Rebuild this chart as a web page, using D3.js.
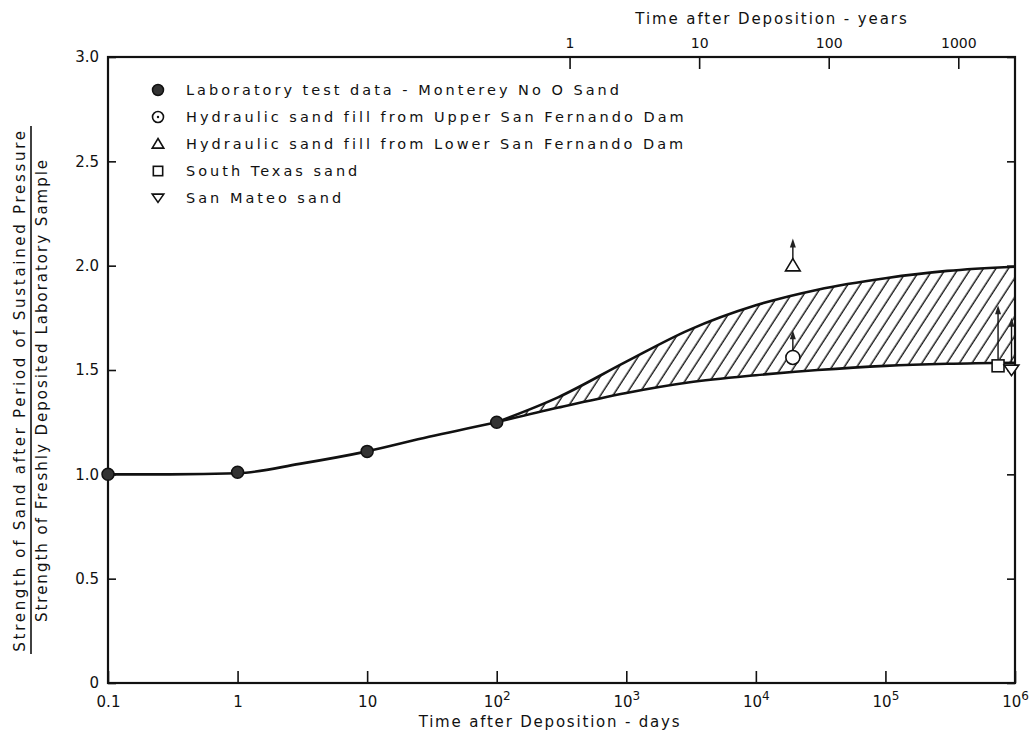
<!DOCTYPE html>
<html>
<head>
<meta charset="utf-8">
<script src="https://cdn.jsdelivr.net/npm/d3@7"></script>
<style>
  html, body { margin: 0; padding: 0; background: #fff; }
  svg { display: block; }
  text { font-family: "DejaVu Sans", "Liberation Sans", sans-serif; fill: #111; }
</style>
</head>
<body>
<svg id="chart" width="1029" height="736"></svg>
<script>
// ---------- data ----------
const bottomTickDays = [0.1, 1, 10, 100, 1000, 1e4, 1e5, 1e6];
const bottomTickBase = ["0.1", "1", "10", "10", "10", "10", "10", "10"];
const bottomTickExp  = ["", "", "", "2", "3", "4", "5", "6"];
const topTickYears = [1, 10, 100, 1000];
const topTickLabels = ["1", "10", "100", "1000"];
const yTickValues = [0, 0.5, 1.0, 1.5, 2.0, 2.5, 3.0];
const yTickLabels = ["0", "0.5", "1.0", "1.5", "2.0", "2.5", "3.0"];

// Laboratory test data - Monterey No 0 Sand
const labDays = [0.1, 1, 10, 100];
const labStrength = [1.0, 1.01, 1.11, 1.25];

// common trend curve up to 100 days
const trendDays = [0.1, 0.3, 1, 3, 10, 30, 100];
const trendStrength = [1.0, 1.0, 1.005, 1.05, 1.11, 1.18, 1.25];

// band bounds after 100 days
const bandDays  = [100, 300, 1000, 3000, 1e4, 3e4, 1e5, 3e5, 1e6];
const bandUpper = [1.25, 1.37, 1.54, 1.69, 1.81, 1.885, 1.94, 1.975, 1.995];
const bandLower = [1.25, 1.32, 1.39, 1.44, 1.475, 1.50, 1.52, 1.53, 1.535];

// field samples
const fieldSymbols = ["circle", "triangle", "square", "triangleDown"];
const fieldDays = [19300, 19300, 7.4e5, 9.4e5];
const fieldStrength = [1.56, 2.0, 1.52, 1.50];
const fieldArrowTop = [1.69, 2.13, 1.81, 1.75];

const legendLabels = ["Laboratory test data - Monterey No O Sand",
                      "Hydraulic sand fill from Upper San Fernando Dam",
                      "Hydraulic sand fill from Lower San Fernando Dam",
                      "South Texas sand", "San Mateo sand"];
const legendSymbols = ["filled", "circle", "triangle", "square", "triangleDown"];

// ---------- layout ----------
const L = 108, R = 1015, T = 57, B = 683;
const svg = d3.select("#chart");
const x = d3.scaleLog().domain([0.1, 1e6]).range([L, R]);
const xYears = d3.scaleLog().domain([0.1 / 365, 1e6 / 365]).range([L, R]);
const y = d3.scaleLinear().domain([0, 3]).range([B, T]);

// hatch pattern
const defs = svg.append("defs");
const pat = defs.append("pattern").attr("id", "hatch")
  .attr("patternUnits", "userSpaceOnUse").attr("width", 10.5).attr("height", 12)
  .attr("patternTransform", "rotate(33)");
pat.append("line").attr("x1", 5).attr("y1", 0).attr("x2", 5).attr("y2", 12)
  .attr("stroke", "#111").attr("stroke-width", 1.4);

// hatched band
const bandData = bandDays.map((d, i) => ({d, u: bandUpper[i], l: bandLower[i]}));
svg.append("path").datum(bandData)
  .attr("d", d3.area().x(p => x(p.d)).y0(p => y(p.l)).y1(p => y(p.u)).curve(d3.curveMonotoneX))
  .attr("fill", "url(#hatch)");

// frame
svg.append("rect").attr("x", L).attr("y", T).attr("width", R - L).attr("height", B - T)
  .attr("fill", "none").attr("stroke", "#111").attr("stroke-width", 2.2);

// axes
const gB = svg.append("g").attr("transform", `translate(0,${B})`)
  .call(d3.axisBottom(x).tickValues(bottomTickDays).tickSize(-12).tickPadding(10).tickFormat(() => ""));
gB.selectAll(".tick text").each(function(d, i) {
  const t = d3.select(this).attr("font-size", 15).attr("dy", "0.9em");
  t.append("tspan").text(bottomTickBase[i]);
  if (bottomTickExp[i]) t.append("tspan").attr("dy", "-0.55em").attr("font-size", 12).text(bottomTickExp[i]);
});

const gT = svg.append("g").attr("transform", `translate(0,${T})`)
  .call(d3.axisTop(xYears).tickValues(topTickYears).tickSize(-12).tickPadding(6)
    .tickFormat((d, i) => topTickLabels[i]));
gT.selectAll(".tick text").attr("font-size", 14).attr("dy", "-0.2em");

const gL = svg.append("g").attr("transform", `translate(${L},0)`)
  .call(d3.axisLeft(y).tickValues(yTickValues).tickSize(-8).tickPadding(9)
    .tickFormat((d, i) => yTickLabels[i]));
gL.selectAll(".tick text").attr("font-size", 15);

const gR = svg.append("g").attr("transform", `translate(${R},0)`)
  .call(d3.axisRight(y).tickValues(yTickValues).tickSize(-8).tickFormat(() => ""));

[gB, gT, gL, gR].forEach(g => {
  g.select(".domain").remove();
  g.selectAll(".tick line").attr("stroke", "#111").attr("stroke-width", 1.6);
  g.selectAll("text").attr("fill", "#111").attr("font-family", "DejaVu Sans, sans-serif");
});

// trend lines
const lineGen = d3.line().curve(d3.curveMonotoneX);
svg.append("path")
  .attr("d", lineGen(trendDays.map((d, i) => [x(d), y(trendStrength[i])])))
  .attr("fill", "none").attr("stroke", "#111").attr("stroke-width", 2.6);
svg.append("path")
  .attr("d", lineGen(bandDays.map((d, i) => [x(d), y(bandUpper[i])])))
  .attr("fill", "none").attr("stroke", "#111").attr("stroke-width", 2.6);
svg.append("path")
  .attr("d", lineGen(bandDays.map((d, i) => [x(d), y(bandLower[i])])))
  .attr("fill", "none").attr("stroke", "#111").attr("stroke-width", 2.6);

// symbol drawing
function drawSymbol(g, kind, cx, cy, s) {
  if (kind === "filled") {
    g.append("circle").attr("cx", cx).attr("cy", cy).attr("r", s)
      .attr("fill", "#333").attr("stroke", "#111").attr("stroke-width", 1.5);
  } else if (kind === "circle") {
    g.append("circle").attr("cx", cx).attr("cy", cy).attr("r", s)
      .attr("fill", "#fff").attr("stroke", "#111").attr("stroke-width", 1.6);
  } else if (kind === "triangle") {
    g.append("path").attr("d", `M${cx},${cy - s}L${cx + s * 1.05},${cy + s * 0.75}L${cx - s * 1.05},${cy + s * 0.75}Z`)
      .attr("fill", "#fff").attr("stroke", "#111").attr("stroke-width", 1.6);
  } else if (kind === "square") {
    g.append("rect").attr("x", cx - s * 0.85).attr("y", cy - s * 0.85).attr("width", s * 1.7).attr("height", s * 1.7)
      .attr("fill", "#fff").attr("stroke", "#111").attr("stroke-width", 1.6);
  } else if (kind === "triangleDown") {
    g.append("path").attr("d", `M${cx},${cy + s * 0.8}L${cx + s * 1.05},${cy - s * 0.7}L${cx - s * 1.05},${cy - s * 0.7}Z`)
      .attr("fill", "#fff").attr("stroke", "#111").attr("stroke-width", 1.6);
  }
}

// lab points
const gLab = svg.append("g");
labDays.forEach((d, i) => drawSymbol(gLab, "filled", x(d), y(labStrength[i]), 6));

// field points with arrows
const gField = svg.append("g");
fieldDays.forEach((d, i) => {
  const cx = x(d), cy = y(fieldStrength[i]), top = y(fieldArrowTop[i]);
  gField.append("line").attr("x1", cx).attr("x2", cx).attr("y1", cy - 6).attr("y2", top + 4)
    .attr("stroke", "#111").attr("stroke-width", 1.4);
  gField.append("path").attr("d", `M${cx},${top}L${cx + 3},${top + 9}L${cx - 3},${top + 9}Z`)
    .attr("fill", "#222");
  drawSymbol(gField, fieldSymbols[i], cx, cy, 7);
});

// legend
const gLeg = svg.append("g");
legendLabels.forEach((lab, i) => {
  const ly = 90 + i * 27;
  drawSymbol(gLeg, legendSymbols[i], 158, ly, 5.5);
  if (legendSymbols[i] === "circle") gLeg.append("circle").attr("cx", 158).attr("cy", ly).attr("r", 1.2).attr("fill", "#111");
  gLeg.append("text").attr("x", 186).attr("y", ly).attr("dy", "0.35em")
    .attr("font-size", 14.5).attr("letter-spacing", 3).text(lab);
});

// axis titles
svg.append("text").attr("x", 550).attr("y", 727).attr("text-anchor", "middle")
  .attr("font-size", 15).attr("letter-spacing", 1.8).text("Time after Deposition - days");
svg.append("text").attr("x", 772).attr("y", 24).attr("text-anchor", "middle")
  .attr("font-size", 15).attr("letter-spacing", 1.9).text("Time after Deposition - years");

const gY = svg.append("g").attr("transform", "translate(31,390) rotate(-90)");
gY.append("text").attr("x", 0).attr("y", -6).attr("text-anchor", "middle")
  .attr("font-size", 15).attr("letter-spacing", 2.7).text("Strength of Sand after Period of Sustained Pressure");
gY.append("line").attr("x1", -264).attr("x2", 264).attr("y1", 0).attr("y2", 0)
  .attr("stroke", "#111").attr("stroke-width", 1.6);
gY.append("text").attr("x", 0).attr("y", 16).attr("text-anchor", "middle")
  .attr("font-size", 15).attr("letter-spacing", 2).text("Strength of Freshly Deposited Laboratory Sample");
</script>
</body>
</html>
